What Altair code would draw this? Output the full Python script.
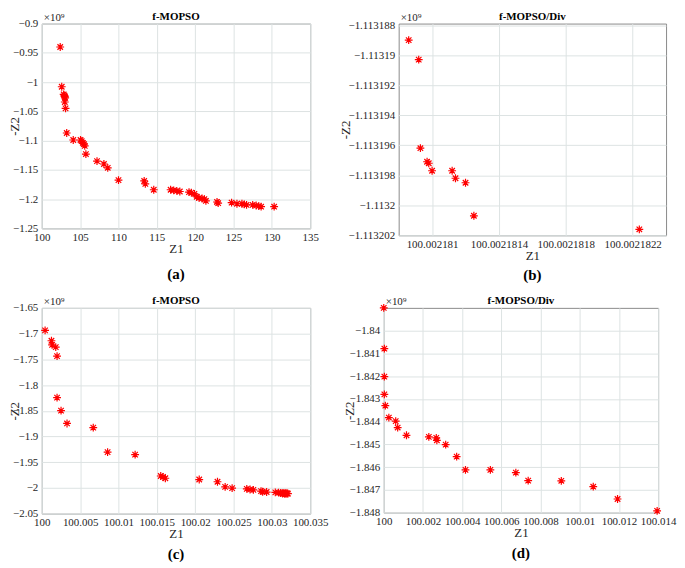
import altair as alt
import pandas as pd

# ---------------- data ----------------
# Panel (a): f-MOPSO
a_z1 = [102.4, 102.6, 102.85, 102.95, 103.0, 103.05, 103.0, 103.1, 103.25, 104.1,
        105.05, 105.2, 105.35, 105.5, 105.6, 105.75, 107.2, 108.1, 108.6, 110.0,
        113.35, 113.5, 114.6, 116.8, 117.2, 117.6, 118.0, 119.2, 119.5, 119.9,
        120.2, 120.5, 120.9, 121.2, 121.4, 122.85, 123.0, 124.75, 125.45, 126.1,
        126.4, 126.7, 127.5, 127.95, 128.3, 128.6, 130.3]
a_z2 = [-0.94, -1.008, -1.021, -1.023, -1.025, -1.027, -1.034, -1.045, -1.087, -1.099,
        -1.099, -1.101, -1.104, -1.106, -1.109, -1.123, -1.135, -1.140, -1.1465, -1.1675,
        -1.169, -1.174, -1.184, -1.184, -1.185, -1.186, -1.187, -1.188, -1.189, -1.191,
        -1.196, -1.198, -1.199, -1.200, -1.203, -1.205, -1.207, -1.206, -1.208, -1.208,
        -1.209, -1.210, -1.210, -1.211, -1.212, -1.213, -1.213]

# Panel (b): f-MOPSO/Div
b_z1 = [100.00218086, 100.00218092, 100.00218093, 100.00218097, 100.00218098,
        100.00218100, 100.00218112, 100.00218114, 100.00218120, 100.00218125,
        100.00218224]
b_z2 = [-1.1131890, -1.1131903, -1.1131962, -1.1131971, -1.1131972,
        -1.1131977, -1.1131977, -1.1131982, -1.1131985, -1.1132007,
        -1.1132016]

# Panel (c): f-MOPSO
c_z1 = [100.00043, 100.00126, 100.00134, 100.00182, 100.00199, 100.00199, 100.00251,
        100.00329, 100.00671, 100.00858, 100.01217, 100.01551, 100.01581, 100.01611,
        100.02053, 100.02291, 100.02391, 100.02482, 100.02673, 100.02716, 100.02759,
        100.02859, 100.02880, 100.02932, 100.03045, 100.03088, 100.03115, 100.03135,
        100.03150, 100.03165, 100.03180, 100.03195, 100.03210, 100.03140, 100.03170,
        100.03200]
c_z2 = [-1.6938, -1.7139, -1.7220, -1.7264, -1.7439, -1.8246, -1.8497,
        -1.8747, -1.8829, -1.9304, -1.9354, -1.9768, -1.9787, -1.9812,
        -1.9837, -1.9880, -1.9980, -2.0005, -2.0018, -2.0030, -2.0037,
        -2.0062, -2.0074, -2.0080, -2.0087, -2.0093, -2.0098, -2.0102,
        -2.0100, -2.0106, -2.0104, -2.0108, -2.0110, -2.0112, -2.0114,
        -2.0106]

# Panel (d): f-MOPSO/Div
d_z1 = [100.00000, 100.00003, 100.00003, 100.00003, 100.00008, 100.00026, 100.00061,
        100.00071, 100.00116, 100.00230, 100.00268, 100.00271, 100.00316, 100.00372,
        100.00417, 100.00544, 100.00674, 100.00737, 100.00906, 100.01069, 100.01193,
        100.01395]
d_z2 = [-1.839, -1.84079, -1.84202, -1.84280, -1.84330, -1.84382, -1.84398,
        -1.84426, -1.84460, -1.84467, -1.84471, -1.84482, -1.84501, -1.84554,
        -1.84612, -1.84612, -1.84624, -1.84659, -1.84660, -1.84686, -1.84740,
        -1.84792]

# tick values
a_xt = [100, 105, 110, 115, 120, 125, 130, 135]
a_yt = [-0.9, -0.95, -1, -1.05, -1.1, -1.15, -1.2, -1.25]
b_xt = [100.002181, 100.0021814, 100.0021818, 100.0021822]
b_yt = [-1.113188, -1.11319, -1.113192, -1.113194, -1.113196, -1.113198, -1.1132, -1.113202]
c_xt = [100, 100.005, 100.01, 100.015, 100.02, 100.025, 100.03, 100.035]
c_yt = [-1.65, -1.7, -1.75, -1.8, -1.85, -1.9, -1.95, -2, -2.05]
d_xt = [100, 100.002, 100.004, 100.006, 100.008, 100.01, 100.012, 100.014]
d_yt = [-1.84, -1.841, -1.842, -1.843, -1.844, -1.845, -1.846, -1.847, -1.848]

titles = ["f-MOPSO", "f-MOPSO/Div", "f-MOPSO", "f-MOPSO/Div"]
captions = ["(a)", "(b)", "(c)", "(d)"]
EXP = "\u00d710\u2079"

SERIF = "Liberation Serif, Times New Roman, serif"
AST = "M-1,0L1,0M0,-1L0,1M-0.7,-0.7L0.7,0.7M-0.7,0.7L0.7,-0.7"


def label(text, x, y, size, weight, align="center", baseline="middle", color="#000000"):
    return alt.Chart(pd.DataFrame({"t": [text]})).mark_text(
        align=align, baseline=baseline, font=SERIF, fontSize=size,
        fontWeight=weight, color=color
    ).encode(text="t:N", x=alt.value(x), y=alt.value(y))


def panel(z1, z2, xdom, ydom, xt, yt, xfmt, yfmt, w, h, title, cap, ytx, cap_off):
    df = pd.DataFrame({"z1": z1, "z2": z2})
    pts = alt.Chart(df).mark_point(
        shape=AST, filled=False, size=62, strokeWidth=1.2, color="#ff0000", opacity=1
    ).encode(
        x=alt.X("z1:Q", scale=alt.Scale(domain=xdom, nice=False, zero=False),
                axis=alt.Axis(values=xt, format=xfmt, title="Z1", titlePadding=0,
                              labelFont=SERIF, titleFont=SERIF,
                              labelFlush=False, labelOverlap=False, labelPadding=3)),
        y=alt.Y("z2:Q", scale=alt.Scale(domain=ydom, nice=False, zero=False),
                axis=alt.Axis(values=yt, format=yfmt, title="-Z2", titleX=ytx,
                              titleY=h / 2, titleBaseline="middle",
                              labelFont=SERIF, titleFont=SERIF,
                              labelOverlap=False, labelPadding=4)),
    )
    exp = label(EXP, 2, -1, 11, "normal", align="left", baseline="bottom", color="#262626")
    ttl = label(title, w / 2, -2, 11, "bold", baseline="bottom")
    capt = label(cap, w / 2, h + cap_off, 15, "bold")
    return alt.layer(pts, exp, ttl, capt).properties(width=w, height=h)


pa = panel(a_z1, a_z2, [100, 135], [-1.25, -0.9], a_xt, a_yt, ".3~g", ".3~g",
           270, 206, titles[0], captions[0], -27, 46)
pb = panel(b_z1, b_z2, [100.0021808, 100.0021824], [-1.113202, -1.1131879], b_xt, b_yt,
           ".10~g", ".7~g", 269, 213, titles[1], captions[1], -53, 40)
pc = panel(c_z1, c_z2, [100, 100.035], [-2.05, -1.65], c_xt, c_yt, ".6~g", ".3~g",
           270, 207, titles[2], captions[2], -27, 41)
pd_ = panel(d_z1, d_z2, [100, 100.014], [-1.848, -1.839], d_xt, d_yt, ".6~g", ".4~g",
            276, 206, titles[3], captions[3], -34, 41)

row1 = alt.hconcat(pa, pb, spacing=20)
row2 = alt.hconcat(pc, pd_, spacing=14)

chart = alt.vconcat(row1, row2, spacing=10).properties(padding=0).configure_view(
    stroke="#8a8a8a", strokeWidth=1
).configure_axis(
    labelFont=SERIF, labelFontSize=11, labelColor="#262626",
    titleFont=SERIF, titleFontSize=13, titleFontWeight="normal", titleColor="#262626",
    grid=True, gridColor="#dde3e3", gridWidth=1, domain=False, ticks=False
)

chart.save("out.html", embed_options={"renderer": "svg", "actions": False})
